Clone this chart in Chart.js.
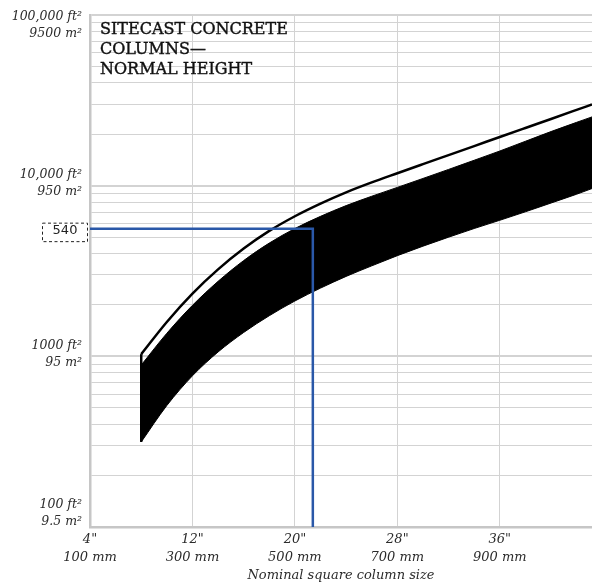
<!DOCTYPE html>
<html>
<head>
<meta charset="utf-8">
<script src="https://cdn.jsdelivr.net/npm/chart.js@4/dist/chart.umd.min.js"></script>
<style>html,body{margin:0;padding:0;background:#fff;overflow:hidden}canvas{display:block}</style>
</head>
<body>
<canvas id="c" width="592" height="586"></canvas>
<script>
// ---- data ----
const columnSizes   = [8, 10, 12, 14, 16, 18, 20, 22, 24, 26, 28, 30, 32, 34, 36, 38, 40, 42, 43.2]; // inches
const envelopeOuter = [1030, 1590, 2330, 3230, 4280, 5430, 6620, 7850, 9140, 10450, 11830, 13370, 15100, 17060, 19280, 21780, 24600, 27800, 29920]; // ft²
const bandUpper     = [889, 1365, 1990, 2750, 3640, 4610, 5610, 6610, 7640, 8670, 9770, 11020, 12450, 14090, 15960, 18200, 20750, 23500, 25290];
const bandLower     = [315, 515, 769, 1060, 1380, 1730, 2110, 2510, 2940, 3390, 3890, 4420, 4990, 5610, 6270, 7030, 7910, 8910, 9620];

const xTickValues  = [4, 12, 20, 28, 36];
const xTickInches  = ['4"', '12"', '20"', '28"', '36"'];
const xTickMetric  = ['100 mm', '300 mm', '500 mm', '700 mm', '900 mm'];
const yTickValues  = [100, 1000, 10000, 100000];
const yTickImperial = ['100 ft²', '1000 ft²', '10,000 ft²', '100,000 ft²'];
const yTickMetric   = ['9.5 m²', '95 m²', '950 m²', '9500 m²'];
const yGridValues  = [100,200,300,400,500,600,700,800,900,
                      1000,2000,3000,4000,5000,6000,7000,8000,9000,
                      10000,20000,30000,40000,50000,60000,70000,80000,90000,100000];
const xRange = [4, 43.2];
const yRange = [100, 100000];

const exampleSize  = 21.4;   // inches
const exampleArea  = 5600;   // ft²
const exampleLabel = '540';

const titleLines = ['SITECAST CONCRETE', 'COLUMNS\u2014', 'NORMAL HEIGHT'];
const xAxisTitle = 'Nominal square column size';

// ---- build ----
const pts = ys => columnSizes.map((s, i) => ({x: s, y: ys[i]}));

const textPlugin = {
  id: 'textPlugin',
  afterDraw(chart) {
    const {ctx, chartArea: a, scales: {x, y}} = chart;
    ctx.save();
    // y tick labels
    ctx.font = 'italic 12.5px "DejaVu Serif"';
    ctx.fillStyle = '#2b2b2b';
    ctx.textAlign = 'right';
    ctx.textBaseline = 'middle';
    yTickValues.forEach((v, i) => {
      let c = y.getPixelForValue(v) - 3;
      c = Math.min(Math.max(c, a.top + 10), a.bottom - 14);
      ctx.fillText(yTickImperial[i], a.left - 8, c - 8);
      ctx.fillText(yTickMetric[i], a.left - 8, c + 9);
    });
    // x tick labels
    ctx.font = 'italic 13px "DejaVu Serif"';
    ctx.textAlign = 'center';
    xTickValues.forEach((v, i) => {
      const px = x.getPixelForValue(v);
      ctx.fillText(xTickInches[i], px, a.bottom + 13);
      ctx.fillText(xTickMetric[i], px, a.bottom + 31);
    });
    ctx.fillText(xAxisTitle, (a.left + a.right) / 2, a.bottom + 49);
    // title
    ctx.font = '16px "DejaVu Serif"';
    ctx.fillStyle = '#111';
    ctx.strokeStyle = '#111';
    ctx.lineWidth = 0.4;
    ctx.textAlign = 'left';
    ctx.textBaseline = 'alphabetic';
    titleLines.forEach((t, i) => {
      ctx.fillText(t, a.left + 10, a.top + 19 + i * 20);
      ctx.strokeText(t, a.left + 10, a.top + 19 + i * 20);
    });
    // example label box
    const py = y.getPixelForValue(exampleArea);
    ctx.setLineDash([3, 2.5]);
    ctx.strokeStyle = '#222';
    ctx.lineWidth = 1;
    ctx.strokeRect(a.left - 47.5, py - 5.5, 45, 18.5);
    ctx.setLineDash([]);
    ctx.font = '13px "DejaVu Sans"';
    ctx.fillStyle = '#222';
    ctx.textAlign = 'center';
    ctx.textBaseline = 'middle';
    ctx.fillText(exampleLabel, a.left - 25, py + 1.5);
    ctx.restore();
  }
};

new Chart(document.getElementById('c'), {
  type: 'line',
  data: {
    datasets: [
      {
        label: 'example', order: 0,
        data: [{x: xRange[0], y: exampleArea}, {x: exampleSize, y: exampleArea}, {x: exampleSize, y: yRange[0]}],
        borderColor: '#2a58a8', borderWidth: 2.5, pointRadius: 0, tension: 0, fill: false
      },
      {
        label: 'outer', order: 1,
        data: pts(envelopeOuter),
        borderColor: '#000', borderWidth: 2.5, pointRadius: 0, cubicInterpolationMode: 'monotone', fill: false
      },
      {
        label: 'edge', order: 1,
        data: [{x: columnSizes[0], y: bandLower[0]}, {x: columnSizes[0], y: envelopeOuter[0]}],
        borderColor: '#000', borderWidth: 2.5, pointRadius: 0, tension: 0, fill: false
      },
      {
        label: 'upper', order: 2,
        data: pts(bandUpper),
        borderColor: '#000', borderWidth: 1, backgroundColor: '#000', pointRadius: 0,
        cubicInterpolationMode: 'monotone', fill: 4
      },
      {
        label: 'lower', order: 2,
        data: pts(bandLower),
        borderColor: '#000', borderWidth: 1, pointRadius: 0, cubicInterpolationMode: 'monotone', fill: false
      }
    ]
  },
  options: {
    responsive: false,
    animation: false,
    devicePixelRatio: 1,
    layout: {padding: {top: 15, right: 0, left: 0, bottom: 0}},
    plugins: {legend: {display: false}, tooltip: {enabled: false}, title: {display: false}},
    scales: {
      x: {
        type: 'linear', min: xRange[0], max: xRange[1],
        afterBuildTicks: s => { s.ticks = xTickValues.map(v => ({value: v})); },
        afterFit: s => { s.height = 59; },
        ticks: {display: false},
        grid: {color: '#d3d3d3', lineWidth: 1, drawTicks: false},
        border: {color: '#c6c6c6', width: 2.5}
      },
      y: {
        type: 'logarithmic', min: yRange[0], max: yRange[1],
        afterBuildTicks: s => { s.ticks = yGridValues.map(v => ({value: v})); },
        afterFit: s => { s.width = 90; },
        ticks: {display: false},
        grid: {
          color: '#d3d3d3', drawTicks: false,
          lineWidth: c => (c.tick && yTickValues.includes(c.tick.value)) ? 2 : 1
        },
        border: {color: '#c6c6c6', width: 2.5}
      }
    }
  },
  plugins: [textPlugin]
});
</script>
</body>
</html>
